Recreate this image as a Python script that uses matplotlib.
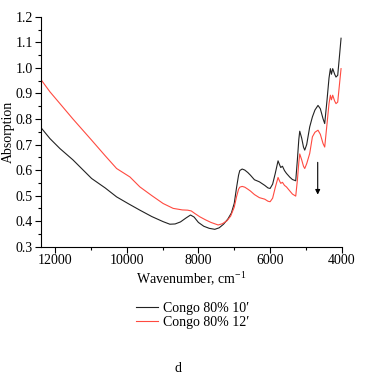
import numpy as np, matplotlib
matplotlib.use('Agg')
import matplotlib.pyplot as plt
from matplotlib.ticker import MultipleLocator

plt.rcParams['font.family'] = ['Liberation Serif', 'DejaVu Serif']
plt.rcParams['mathtext.fontset'] = 'custom'
plt.rcParams['mathtext.rm'] = 'Liberation Serif'

# Congo 80% 10' (black)
wn_10 = [12390, 12139, 11861, 11500, 11300, 10978, 10600, 10281, 9950, 9632, 9300,
         8983, 8796, 8650, 8500, 8350, 8220, 8120, 8000, 7850, 7700, 7543, 7420,
         7300, 7180, 7080, 7000, 6938, 6880, 6846, 6780, 6707, 6620, 6550, 6437,
         6300, 6150, 6060, 6000, 5930, 5860, 5779, 5740, 5704, 5656, 5600, 5545,
         5450, 5378, 5286, 5240, 5200, 5174, 5120, 5070, 5035, 4980, 4896, 4821,
         4750, 4665, 4600, 4525, 4478, 4414, 4358, 4320, 4290, 4255, 4200, 4163,
         4115, 4070, 4022]
ab_10 = [0.766, 0.723, 0.684, 0.640, 0.612, 0.567, 0.530, 0.495, 0.468, 0.443, 0.418,
         0.398, 0.388, 0.389, 0.397, 0.412, 0.424, 0.416, 0.395, 0.380, 0.372, 0.368, 0.374,
         0.388, 0.408, 0.432, 0.470, 0.530, 0.580, 0.598, 0.604, 0.600, 0.590, 0.580, 0.562,
         0.554, 0.540, 0.530, 0.528, 0.545, 0.585, 0.636, 0.622, 0.610, 0.615, 0.598, 0.587,
         0.572, 0.563, 0.558, 0.640, 0.720, 0.752, 0.725, 0.690, 0.678, 0.700, 0.769, 0.808,
         0.835, 0.853, 0.840, 0.801, 0.782, 0.873, 0.960, 0.997, 0.975, 0.997, 0.975, 0.964,
         0.971, 1.040, 1.116]

# Congo 80% 12' (red)
wn_12 = [12390, 12139, 11861, 11500, 10978, 10600, 10281, 9910, 9632, 9300, 8983,
         8704, 8450, 8300, 8200, 8100, 7960, 7800, 7650, 7450, 7330, 7200, 7100,
         7000, 6938, 6880, 6846, 6780, 6707, 6620, 6550, 6437, 6300, 6150, 6060,
         6000, 5930, 5860, 5779, 5740, 5704, 5656, 5600, 5545, 5450, 5378, 5286,
         5240, 5200, 5174, 5120, 5070, 5035, 4980, 4896, 4821, 4750, 4665, 4600,
         4525, 4478, 4414, 4358, 4320, 4290, 4255, 4200, 4163, 4115, 4070, 4022]
ab_12 = [0.954, 0.906, 0.860, 0.800, 0.717, 0.656, 0.606, 0.573, 0.534, 0.500, 0.469,
         0.450, 0.444, 0.443, 0.440, 0.430, 0.417, 0.405, 0.395, 0.385, 0.390, 0.402, 0.420,
         0.455, 0.495, 0.525, 0.533, 0.536, 0.533, 0.525, 0.518, 0.504, 0.492, 0.486, 0.478,
         0.476, 0.490, 0.530, 0.571, 0.558, 0.548, 0.552, 0.540, 0.534, 0.518, 0.506, 0.498,
         0.560, 0.630, 0.663, 0.640, 0.615, 0.606, 0.625, 0.665, 0.730, 0.748, 0.756, 0.740,
         0.704, 0.690, 0.780, 0.860, 0.893, 0.875, 0.893, 0.870, 0.860, 0.866, 0.930, 0.997]

labels = ["Congo 80% 10\u2032", "Congo 80% 12\u2032"]

fig = plt.figure(figsize=(3.66, 3.81), dpi=100)
ax = fig.add_axes([0.111, 0.3525, 0.823, 0.6035])
l1, = ax.plot(wn_10, ab_10, color='#222222', lw=0.8)
l2, = ax.plot(wn_12, ab_12, color='#ff4a40', lw=0.8)

ax.set_xlim(12400, 4000)
ax.set_ylim(0.3, 1.2)
ax.xaxis.set_major_locator(MultipleLocator(2000))
ax.xaxis.set_minor_locator(MultipleLocator(1000))
ax.yaxis.set_major_locator(MultipleLocator(0.1))
ax.yaxis.set_minor_locator(MultipleLocator(0.05))
ax.spines['top'].set_visible(False)
ax.spines['right'].set_visible(False)
ax.tick_params(which='both', direction='out', labelsize=10, width=0.8, pad=1.5)
ax.tick_params(which='major', length=4)
ax.tick_params(which='minor', length=2.5)
ax.set_xlabel('Wavenumber, cm$^{-1}$', fontsize=10, labelpad=2)
fig.text(0.024, 0.655, 'Absorption', rotation=90, ha='center', va='center', fontsize=10)

ax.annotate('', xy=(4673, 0.493), xytext=(4673, 0.641),
            arrowprops=dict(arrowstyle='-|>', color='black', lw=0.8,
                            mutation_scale=7))

fig.legend([l1, l2], labels, loc='center', bbox_to_anchor=(0.526, 0.172),
           frameon=False, fontsize=10, handlelength=1.6, handletextpad=0.3,
           labelspacing=0.1)
fig.text(0.486, 0.034, 'd', ha='center', va='center', fontsize=10)

fig.savefig('out.png', dpi=100)
